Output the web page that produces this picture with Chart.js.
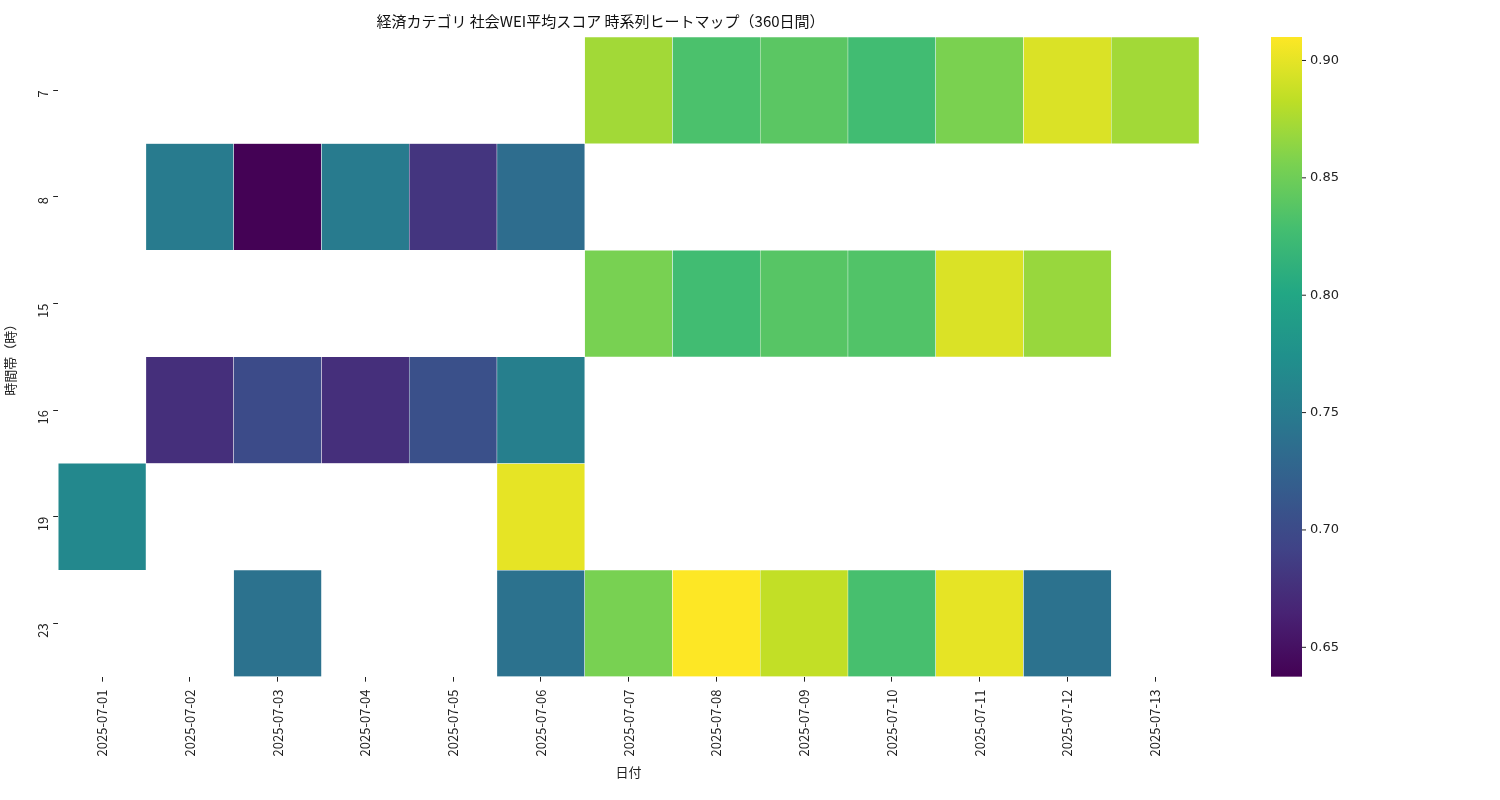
<!DOCTYPE html>
<html><head><meta charset="utf-8">
<script src="https://cdn.jsdelivr.net/npm/chart.js@4"></script>
<style>body{margin:0;background:#fff}#w{width:1500px;height:800px}</style>
</head><body><div id="w"><canvas id="c"></canvas></div>
<script>
const dates=["2025-07-01","2025-07-02","2025-07-03","2025-07-04","2025-07-05","2025-07-06","2025-07-07","2025-07-08","2025-07-09","2025-07-10","2025-07-11","2025-07-12","2025-07-13"];
const hours=["7","8","15","16","19","23"];
const h7 =[null,null,null,null,null,null,0.872,0.832,0.840,0.826,0.856,0.895,0.872];
const h8 =[null,0.750,0.638,0.750,0.680,0.735,null,null,null,null,null,null,null];
const h15=[null,null,null,null,null,null,0.855,0.826,0.838,0.835,0.895,0.868,null];
const h16=[null,0.675,0.700,0.675,0.705,0.755,null,null,null,null,null,null,null];
const h19=[0.765,null,null,null,null,0.900,null,null,null,null,null,null,null];
const h23=[null,null,0.740,null,null,0.740,0.855,0.910,0.885,0.830,0.900,0.740,null];
const rows=[h7,h8,h15,h16,h19,h23];
const vmin=0.6375,vmax=0.910;
const vir=[[68,1,84],[72,35,116],[64,67,135],[52,94,141],[41,120,142],[32,144,140],[34,167,132],[68,190,112],[121,209,81],[189,222,38],[253,231,37]];
function cmap(v){let t=Math.max(0,Math.min(1,(v-vmin)/(vmax-vmin)))*(vir.length-1);let i=Math.min(Math.floor(t),vir.length-2),f=t-i;const a=vir[i],b=vir[i+1];return `rgb(${a.map((x,k)=>Math.round(x+(b[k]-x)*f)).join(',')})`;}
const datasets=rows.map((r,ri)=>({label:hours[ri],data:r.map(v=>v==null?null:[ri-0.5,ri+0.5]),backgroundColor:r.map(v=>v==null?'transparent':cmap(v)),borderColor:'#fff',borderWidth:0.5,borderSkipped:false,grouped:false,barPercentage:1,categoryPercentage:1}));
const font={family:'"Noto Sans CJK JP","DejaVu Sans",sans-serif',size:13};
const cbar={id:'cbar',afterDraw(ch){const c=ch.ctx,a=ch.chartArea,x=1271,w=31,top=a.top,bot=a.bottom;const g=c.createLinearGradient(0,bot,0,top);for(let i=0;i<=20;i++){g.addColorStop(i/20,cmap(vmin+(vmax-vmin)*i/20));}c.fillStyle=g;c.fillRect(x,top,w,bot-top);c.fillStyle='#222';c.strokeStyle='#222';c.font='13px "DejaVu Sans",sans-serif';c.textBaseline='middle';for(const t of [0.65,0.70,0.75,0.80,0.85,0.90]){const y=bot-(t-vmin)/(vmax-vmin)*(bot-top);c.beginPath();c.moveTo(x+w,y);c.lineTo(x+w+4,y);c.stroke();c.fillText(t.toFixed(2),x+w+8,y);}}};
const grid={display:true,drawOnChartArea:false,drawTicks:true,tickLength:5,color:'#222',offset:false};
new Chart(document.getElementById('c'),{type:'bar',data:{labels:dates,datasets},plugins:[cbar],
options:{responsive:true,maintainAspectRatio:false,animation:false,layout:{padding:{right:301,top:10,left:2,bottom:20}},
plugins:{legend:{display:false},tooltip:{enabled:false},title:{display:true,text:'経済カテゴリ 社会WEI平均スコア 時系列ヒートマップ（360日間）',color:'#111',font:{...font,size:15,weight:'normal'},padding:{top:2,bottom:7}}},
scales:{x:{grid,border:{display:false},ticks:{color:'#222',font,minRotation:90,maxRotation:90,padding:8},title:{display:true,text:'日付',color:'#222',font,padding:0}},
y:{type:'linear',min:-0.5,max:5.5,reverse:true,grid,border:{display:false},afterBuildTicks(s){s.ticks=[0,1,2,3,4,5].map(v=>({value:v}));},ticks:{color:'#222',font,minRotation:90,maxRotation:90,padding:10,callback:v=>hours[v]},title:{display:true,text:'時間帯（時）',color:'#222',font,padding:0}}}}});
</script></body></html>
